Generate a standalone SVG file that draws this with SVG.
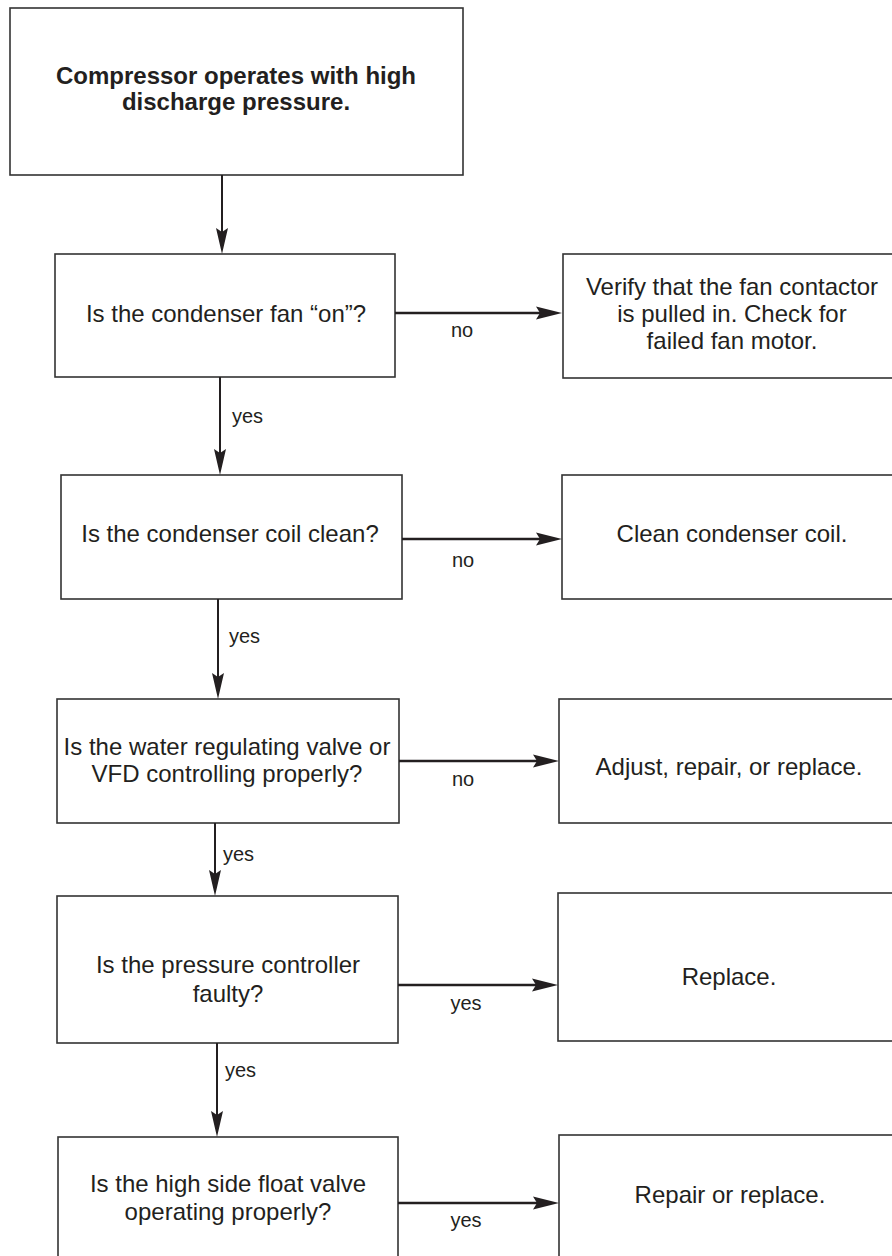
<svg xmlns="http://www.w3.org/2000/svg" width="892" height="1256" viewBox="0 0 892 1256">
<style>
.box{fill:#fff;stroke:#333;stroke-width:1.6}
.t{font-family:"Liberation Sans",Arial,Helvetica,sans-serif;font-size:24px;fill:#231f20;text-anchor:middle}
.tb{font-family:"Liberation Sans",Arial,Helvetica,sans-serif;font-size:24px;font-weight:bold;fill:#231f20;text-anchor:middle}
.lbl{font-family:"Liberation Sans",Arial,Helvetica,sans-serif;font-size:20px;fill:#231f20}
.lc{text-anchor:middle}
.h{stroke:#231f20;stroke-width:2.6;fill:none}
.v{stroke:#231f20;stroke-width:2;fill:none}
</style>
<defs>
<marker id="ah" markerUnits="userSpaceOnUse" markerWidth="26" markerHeight="14" viewBox="0 0 26 14" refX="16" refY="7" orient="auto">
<path d="M0,0.5 L26,7 L0,13.5 L4,7 Z" fill="#231f20"/>
</marker>
<marker id="av" markerUnits="userSpaceOnUse" markerWidth="26" markerHeight="13" viewBox="0 0 26 13" refX="16" refY="6.5" orient="auto">
<path d="M0,0.5 L26,6.5 L0,12.5 L4,6.5 Z" fill="#231f20"/>
</marker>
</defs>

<g id="n-start">
<rect class="box" x="10" y="8" width="453" height="167"/>
<text class="tb" x="236" y="84">Compressor operates with high</text>
<text class="tb" x="236" y="110">discharge pressure.</text>
</g>

<g id="n-fan">
<rect class="box" x="55" y="254" width="340" height="123"/>
<text class="t" x="226" y="322">Is the condenser fan “on”?</text>
</g>
<g id="n-fan-fix">
<rect class="box" x="563" y="254" width="340" height="124"/>
<text class="t" x="732" y="295">Verify that the fan contactor</text>
<text class="t" x="732" y="322">is pulled in. Check for</text>
<text class="t" x="732" y="349">failed fan motor.</text>
</g>

<g id="n-coil">
<rect class="box" x="61" y="475" width="341" height="124"/>
<text class="t" x="230" y="542">Is the condenser coil clean?</text>
</g>
<g id="n-coil-fix">
<rect class="box" x="562" y="475" width="340" height="124"/>
<text class="t" x="732" y="542">Clean condenser coil.</text>
</g>

<g id="n-valve">
<rect class="box" x="57" y="699" width="342" height="124"/>
<text class="t" x="227" y="755">Is the water regulating valve or</text>
<text class="t" x="227" y="782">VFD controlling properly?</text>
</g>
<g id="n-valve-fix">
<rect class="box" x="559" y="699" width="342" height="124"/>
<text class="t" x="729" y="775">Adjust, repair, or replace.</text>
</g>

<g id="n-ctrl">
<rect class="box" x="57" y="896" width="341" height="147"/>
<text class="t" x="228" y="973">Is the pressure controller</text>
<text class="t" x="228" y="1002">faulty?</text>
</g>
<g id="n-ctrl-fix">
<rect class="box" x="558" y="893" width="343" height="148"/>
<text class="t" x="729" y="985">Replace.</text>
</g>

<g id="n-float">
<rect class="box" x="58" y="1137" width="340" height="140"/>
<text class="t" x="228" y="1192">Is the high side float valve</text>
<text class="t" x="228" y="1220">operating properly?</text>
</g>
<g id="n-float-fix">
<rect class="box" x="559" y="1135" width="342" height="140"/>
<text class="t" x="730" y="1203">Repair or replace.</text>
</g>

<g id="connectors">
<line class="v" x1="222" y1="175" x2="222" y2="244" marker-end="url(#av)"/>
<line class="v" x1="220" y1="377" x2="220" y2="465" marker-end="url(#av)"/>
<line class="v" x1="218" y1="599" x2="218" y2="689" marker-end="url(#av)"/>
<line class="v" x1="215" y1="823" x2="215" y2="886" marker-end="url(#av)"/>
<line class="v" x1="217" y1="1043" x2="217" y2="1127" marker-end="url(#av)"/>

<line class="h" x1="395" y1="313" x2="552" y2="313" marker-end="url(#ah)"/>
<line class="h" x1="402" y1="539" x2="552" y2="539" marker-end="url(#ah)"/>
<line class="h" x1="399" y1="761" x2="549" y2="761" marker-end="url(#ah)"/>
<line class="h" x1="398" y1="985" x2="548" y2="985" marker-end="url(#ah)"/>
<line class="h" x1="398" y1="1203" x2="549" y2="1203" marker-end="url(#ah)"/>

<text class="lbl lc" x="462" y="337">no</text>
<text class="lbl" x="232" y="423">yes</text>
<text class="lbl lc" x="463" y="567">no</text>
<text class="lbl" x="229" y="643">yes</text>
<text class="lbl lc" x="463" y="786">no</text>
<text class="lbl" x="223" y="861">yes</text>
<text class="lbl lc" x="466" y="1010">yes</text>
<text class="lbl" x="225" y="1077">yes</text>
<text class="lbl lc" x="466" y="1227">yes</text>
</g>
</svg>
